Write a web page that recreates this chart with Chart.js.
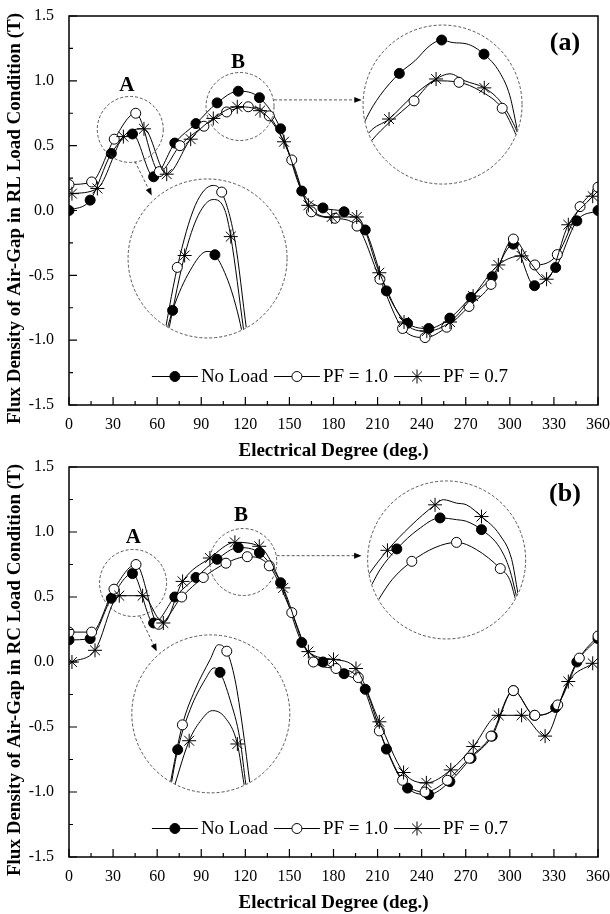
<!DOCTYPE html>
<html>
<head>
<meta charset="utf-8">
<script src="https://cdn.jsdelivr.net/npm/chart.js@4.4.1/dist/chart.umd.min.js"></script>
<style>
  html, body { margin: 0; padding: 0; background: #fff; }
  #wrap { position: relative; width: 610px; height: 914px; overflow: hidden; }
  canvas { position: absolute; left: 0; }
  #rl { top: 0; }
  #rc { top: 451px; }
</style>
</head>
<body>
<div id="wrap">
  <canvas id="rl" width="610" height="462" style="width:610px;height:462px"></canvas>
  <canvas id="rc" width="610" height="463" style="width:610px;height:463px"></canvas>
</div>
<script>
const SERIF = '"Liberation Serif", "Times New Roman", serif';

// tick labels
const xTicks = [0, 30, 60, 90, 120, 150, 180, 210, 240, 270, 300, 330, 360];
const yTicks = [-1.5, -1.0, -0.5, 0.0, 0.5, 1.0, 1.5];

const seriesNames = ['No Load', 'PF = 1.0', 'PF = 0.7'];

// electrical degree of the markers
const degNoLoad = [0, 14.4, 28.8, 43.2, 57.6, 72, 86.4, 100.8, 115.2, 129.6, 144, 158.4, 172.8,
  187.2, 201.6, 216, 230.4, 244.8, 259.2, 273.6, 288, 302.4, 316.8, 331.2, 345.6, 360];
const degPF10RL = [0, 15.4, 30.8, 45.4, 61.5, 75.5, 91.8, 107.3, 122, 136.3, 151.6, 165, 181,
  196, 211.6, 227, 242.3, 257, 272.2, 287.2, 302.4, 317, 332.3, 347.8, 360];
const degPF07RL = [2, 19.3, 37, 51, 66.5, 82.8, 98.2, 114.5, 130, 146.3, 162.9, 178.8, 195.8,
  211.2, 228, 243.5, 259.3, 275, 292.2, 308, 325, 339.8, 356.4];
const degPF10RC = [0, 15.4, 30.6, 45.6, 61, 76.7, 91.4, 106.8, 121.3, 136.3, 151.6, 166.3, 181.7,
  196.9, 211.2, 227, 242.3, 257.5, 272.4, 287.2, 302.4, 317, 332.6, 347.3, 360];
const degPF07RC = [2, 17.7, 34.2, 50.1, 64.2, 77.3, 95.9, 112.9, 129.5, 145.8, 162.9, 180, 195.3,
  211.2, 227.7, 243.2, 259.8, 275.1, 292.4, 308, 324, 339.8, 356.4];

// (a) RL load, flux density (T)
const noLoadRL = [0.00, 0.08, 0.44, 0.59, 0.26, 0.52, 0.67, 0.83, 0.92, 0.87, 0.63, 0.15, 0.02,
  -0.01, -0.15, -0.62, -0.87, -0.91, -0.83, -0.67, -0.51, -0.26, -0.58, -0.44, -0.08, 0.00];
const pf10RL = [0.20, 0.22, 0.55, 0.75, 0.30, 0.50, 0.65, 0.76, 0.80, 0.73, 0.39, -0.01, -0.06,
  -0.12, -0.53, -0.91, -0.98, -0.90, -0.74, -0.57, -0.22, -0.42, -0.34, 0.03, 0.18];
const pf07RL = [0.13, 0.17, 0.57, 0.63, 0.28, 0.55, 0.71, 0.80, 0.77, 0.53, 0.04, -0.05, -0.05,
  -0.48, -0.86, -0.93, -0.86, -0.66, -0.42, -0.35, -0.53, -0.11, 0.11];

// (b) RC load
const noLoadRC = [0.17, 0.18, 0.49, 0.68, 0.30, 0.50, 0.65, 0.79, 0.88, 0.84, 0.61, 0.15, 0.00,
  -0.09, -0.21, -0.67, -0.97, -1.02, -0.92, -0.74, -0.57, -0.22, -0.41, -0.35, 0.00, 0.18];
const pf10RC = [0.23, 0.23, 0.56, 0.75, 0.29, 0.50, 0.65, 0.76, 0.81, 0.74, 0.38, 0.00, -0.05,
  -0.12, -0.53, -0.91, -1.00, -0.91, -0.74, -0.57, -0.22, -0.41, -0.33, 0.03, 0.20];
const pf07RC = [0.00, 0.09, 0.51, 0.51, 0.30, 0.62, 0.80, 0.92, 0.89, 0.57, 0.08, 0.02, -0.05,
  -0.46, -0.85, -0.93, -0.83, -0.65, -0.41, -0.41, -0.57, -0.15, -0.01];

// magnified views, curve and marker points (deg, T)
// (a) zoom A
const zaRLdegNL = [25, 28.8, 34.8, 40.5, 43.2, 47.6, 50.3, 52.3, 53.5];
const zaRLvalNL = [0.33, 0.44, 0.548, 0.599, 0.59, 0.521, 0.453, 0.386, 0.33];
const zaRLdegP10 = [25, 30.4, 36.5, 42.6, 45.5, 50, 54, 55];
const zaRLvalP10 = [0.33, 0.556, 0.723, 0.777, 0.759, 0.629, 0.386, 0.33];
const zaRLdegP07 = [26, 32.9, 37.5, 42.6, 46.6, 48.6, 53, 54];
const zaRLvalP07 = [0.33, 0.588, 0.696, 0.739, 0.71, 0.639, 0.386, 0.33];
const zaRLmkNL = [[28.8, 0.44], [43.2, 0.59]];
const zaRLmkP10 = [[30.4, 0.556], [45.5, 0.759]];
const zaRLmkP07 = [[32.9, 0.588], [48.6, 0.639]];
// (a) zoom B
const zbRLdegNL = [86, 89.7, 94.2, 100.8, 106.1, 111.2, 115.2, 119.1, 123.5, 129.6, 135, 138.4, 141.2, 143];
const zbRLvalNL = [0.64, 0.711, 0.77, 0.83, 0.864, 0.905, 0.92, 0.913, 0.91, 0.882, 0.832, 0.77, 0.667, 0.6];
const zbRLdegP10 = [87, 91.4, 97.3, 105.8, 113.3, 121.1, 128.3, 135.8, 139.1, 140.8, 142.5];
const zbRLvalP10 = [0.6, 0.649, 0.697, 0.756, 0.81, 0.806, 0.783, 0.736, 0.689, 0.654, 0.58];
const zbRLdegP07 = [87, 90.5, 97.3, 105.1, 113.3, 118, 123.1, 129.7, 135, 139.1, 141.2, 143];
const zbRLvalP07 = [0.62, 0.67, 0.707, 0.767, 0.815, 0.829, 0.81, 0.791, 0.756, 0.703, 0.662, 0.59];
const zbRLmkNL = [[100.8, 0.83], [115.2, 0.92], [129.6, 0.882]];
const zbRLmkP10 = [[105.8, 0.756], [121.1, 0.806], [135.8, 0.736]];
const zbRLmkP07 = [[97.3, 0.707], [113.3, 0.815], [129.7, 0.791]];
// (b) zoom A
const zaRCdegNL = [25.5, 28.8, 33, 38.1, 41.2, 43.2, 46.6, 50, 52, 53];
const zaRCvalNL = [0.36, 0.49, 0.588, 0.662, 0.691, 0.68, 0.613, 0.515, 0.404, 0.36];
const zaRCdegP10 = [25, 30.4, 34.7, 39.8, 42.6, 45.5, 48.3, 51, 53.4, 54.2];
const zaRCvalP10 = [0.36, 0.551, 0.637, 0.711, 0.748, 0.732, 0.662, 0.539, 0.404, 0.36];
const zaRCdegP07 = [26, 32.7, 36.4, 40.6, 44.9, 49.1, 51.4, 52.5];
const zaRCvalP07 = [0.36, 0.512, 0.559, 0.586, 0.569, 0.504, 0.404, 0.36];
const zaRCmkNL = [[28.8, 0.49], [43.2, 0.68]];
const zaRCmkP10 = [[30.4, 0.551], [45.5, 0.732]];
const zaRCmkP07 = [[32.7, 0.512], [49.1, 0.504]];
// (b) zoom B
const zbRCdegNL = [89, 92.3, 95.1, 100.8, 108, 115.5, 121.1, 124.5, 129.6, 135.8, 139.2, 141.5, 143];
const zbRCvalNL = [0.64, 0.687, 0.73, 0.79, 0.846, 0.88, 0.875, 0.87, 0.846, 0.794, 0.73, 0.653, 0.6];
const zbRCdegP10 = [91, 94.6, 99.2, 105.9, 113.8, 121.1, 127.9, 136, 139.2, 140.9, 142.5];
const zbRCvalP10 = [0.59, 0.643, 0.701, 0.754, 0.794, 0.809, 0.788, 0.733, 0.701, 0.653, 0.6];
const zbRCdegP07 = [88, 91.2, 97.6, 105.3, 113.8, 116.6, 121.1, 124.5, 129.6, 135.8, 139.9, 142, 143.5];
const zbRCvalP07 = [0.67, 0.715, 0.786, 0.855, 0.918, 0.933, 0.923, 0.918, 0.884, 0.831, 0.759, 0.662, 0.6];
const zbRCmkNL = [[100.8, 0.79], [115.5, 0.88], [129.6, 0.846]];
const zbRCmkP10 = [[105.9, 0.754], [121.1, 0.809], [136, 0.733]];
const zbRCmkP07 = [[97.6, 0.786], [113.8, 0.918], [129.6, 0.884]];

const pts = (xs, ys) => xs.map((x, i) => ({x: x, y: ys[i]}));
const pairs = (list) => list.map(p => ({x: p[0], y: p[1]}));

const MARK = [
  {pointStyle: 'circle', pointRadius: 5, pointBackgroundColor: '#000', order: 2},
  {pointStyle: 'circle', pointRadius: 5, pointBackgroundColor: '#fff', order: 1},
  {pointStyle: 'star', pointRadius: 7, pointBackgroundColor: '#fff', order: 0}
];

function mainSet(i, data) {
  return Object.assign({
    label: seriesNames[i],
    data: data,
    borderColor: '#000',
    borderWidth: 1,
    pointBorderColor: '#000',
    pointBorderWidth: 1,
    cubicInterpolationMode: 'monotone',
    xAxisID: 'x',
    yAxisID: 'y'
  }, MARK[i]);
}

function zoomSets(key, lines, marks) {
  const out = [];
  lines.forEach((d, i) => {
    out.push({
      inset: key, data: d, borderColor: '#000', borderWidth: 1, pointRadius: 0,
      cubicInterpolationMode: 'monotone', order: 5,
      xAxisID: 'x' + key, yAxisID: 'y' + key
    });
    out.push(Object.assign({
      inset: key, data: marks[i], showLine: false, borderColor: '#000',
      pointBorderColor: '#000', pointBorderWidth: 1,
      xAxisID: 'x' + key, yAxisID: 'y' + key
    }, MARK[i], {order: 4 - i / 10}));
  });
  return out;
}

function zoomScales(z) {
  const xmin = z.view[0] - z.center[0] / z.mag[0];
  const ymin = z.view[1] - (z.center[1] + 1.5) / z.mag[1];
  return {
    x: {type: 'linear', display: false, min: xmin, max: xmin + 360 / z.mag[0]},
    y: {type: 'linear', display: false, min: ymin, max: ymin + 3 / z.mag[1]}
  };
}

function decor(cfg) {
  return {
    id: 'decor',
    beforeDatasetDraw(chart, args) {
      const ds = chart.data.datasets[args.index];
      if (!ds.inset) return;
      const z = cfg.zooms[ds.inset];
      const ctx = chart.ctx;
      ctx.save();
      ctx.beginPath();
      ctx.arc(chart.scales.x.getPixelForValue(z.center[0]), chart.scales.y.getPixelForValue(z.center[1]), z.r - 0.5, 0, Math.PI * 2);
      ctx.clip();
    },
    afterDatasetDraw(chart, args) {
      if (chart.data.datasets[args.index].inset) chart.ctx.restore();
    },
    afterDraw(chart) {
      const ctx = chart.ctx;
      const {left, right, top, bottom} = chart.chartArea;
      const sx = chart.scales.x, sy = chart.scales.y;
      const px = v => sx.getPixelForValue(v), py = v => sy.getPixelForValue(v);
      ctx.save();
      // frame and inward ticks
      ctx.strokeStyle = '#000';
      ctx.lineWidth = 1.5;
      ctx.strokeRect(left, top, right - left, bottom - top);
      ctx.lineWidth = 1.2;
      ctx.beginPath();
      for (let v = 0; v <= 360; v += 15) {
        const len = v % 30 === 0 ? 8 : 4;
        ctx.moveTo(px(v), bottom); ctx.lineTo(px(v), bottom - len);
      }
      for (let k = -6; k <= 6; k++) {
        const len = k % 2 === 0 ? 8 : 4;
        ctx.moveTo(left, py(k * 0.25)); ctx.lineTo(left + len, py(k * 0.25));
      }
      ctx.stroke();

      // zoom circles, arrows, labels
      Object.keys(cfg.zooms).forEach(key => {
        const z = cfg.zooms[key];
        ctx.strokeStyle = '#444';
        ctx.lineWidth = 0.9;
        ctx.setLineDash([3, 2]);
        ctx.beginPath();
        ctx.arc(px(z.center[0]), py(z.center[1]), z.r, 0, Math.PI * 2);
        ctx.stroke();
        ctx.beginPath();
        ctx.arc(px(z.small[0]), py(z.small[1]), z.smallR, 0, Math.PI * 2);
        ctx.stroke();
        const ax0 = px(z.arrow[0]), ay0 = py(z.arrow[1]);
        const ax1 = px(z.arrow[2]), ay1 = py(z.arrow[3]);
        const ang = Math.atan2(ay1 - ay0, ax1 - ax0);
        ctx.beginPath();
        ctx.moveTo(ax0, ay0);
        ctx.lineTo(ax1 - 6 * Math.cos(ang), ay1 - 6 * Math.sin(ang));
        ctx.stroke();
        ctx.setLineDash([]);
        ctx.fillStyle = '#000';
        ctx.beginPath();
        ctx.moveTo(ax1, ay1);
        ctx.lineTo(ax1 - 8 * Math.cos(ang - 0.38), ay1 - 8 * Math.sin(ang - 0.38));
        ctx.lineTo(ax1 - 8 * Math.cos(ang + 0.38), ay1 - 8 * Math.sin(ang + 0.38));
        ctx.closePath();
        ctx.fill();
        ctx.font = 'bold 21px ' + SERIF;
        ctx.textAlign = 'center';
        ctx.textBaseline = 'middle';
        ctx.fillText(key, px(z.label[0]), py(z.label[1]));
      });

      // panel tag
      ctx.font = 'bold 26px ' + SERIF;
      ctx.textAlign = 'center';
      ctx.textBaseline = 'middle';
      ctx.fillStyle = '#000';
      ctx.fillText(cfg.tag, px(337.5), py(1.29));

      // legend inside the plot
      ctx.font = '19px ' + SERIF;
      ctx.textBaseline = 'middle';
      ctx.textAlign = 'left';
      const sample = 46, gap = 3, itemGap = 6;
      const mains = chart.data.datasets.slice(0, 3);
      let total = 0;
      mains.forEach(d => { total += sample + gap + ctx.measureText(d.label).width; });
      total += itemGap * 2;
      let lx = (left + right) / 2 - 3.5 - total / 2;
      const ly = bottom - 28.5;
      mains.forEach(d => {
        ctx.strokeStyle = '#000';
        ctx.lineWidth = 1;
        ctx.beginPath();
        ctx.moveTo(lx, ly); ctx.lineTo(lx + sample, ly);
        ctx.stroke();
        ctx.fillStyle = d.pointBackgroundColor;
        Chart.helpers.drawPoint(ctx, {pointStyle: d.pointStyle, radius: d.pointRadius, borderWidth: 1, rotation: 0}, lx + sample / 2, ly);
        ctx.fillStyle = '#000';
        lx += sample + gap;
        ctx.fillText(d.label, lx, ly + 1);
        lx += ctx.measureText(d.label).width + itemGap;
      });

      // axis titles
      ctx.font = 'bold 19px ' + SERIF;
      ctx.textAlign = 'center';
      ctx.fillText('Electrical Degree (deg.)', (left + right) / 2, bottom + 46);
      ctx.save();
      ctx.translate(15, (top + bottom) / 2 + 8);
      ctx.rotate(-Math.PI / 2);
      ctx.fillText(cfg.yTitle, 0, 0);
      ctx.restore();
      ctx.restore();
    }
  };
}

function build(canvasId, cfg, mainData, zoomData) {
  const za = zoomScales(cfg.zooms.A), zb = zoomScales(cfg.zooms.B);
  const datasets = [
    mainSet(0, mainData[0]), mainSet(1, mainData[1]), mainSet(2, mainData[2])
  ].concat(zoomSets('A', zoomData.A.lines, zoomData.A.marks))
   .concat(zoomSets('B', zoomData.B.lines, zoomData.B.marks));
  const tickFont = {family: SERIF, size: 16};
  return new Chart(document.getElementById(canvasId).getContext('2d'), {
    type: 'line',
    data: {datasets: datasets},
    options: {
      responsive: false,
      animation: false,
      layout: {padding: {left: 0, right: 12, top: 16, bottom: cfg.padBottom}},
      scales: {
        x: {
          type: 'linear', min: 0, max: 360,
          afterBuildTicks: s => { s.ticks = xTicks.map(v => ({value: v})); },
          afterFit: s => { s.height = 40; s.paddingLeft = 0; s.paddingRight = 0; },
          ticks: {font: tickFont, color: '#000', padding: 2, maxRotation: 0},
          grid: {display: false},
          border: {display: false}
        },
        y: {
          type: 'linear', min: -1.5, max: 1.5,
          afterBuildTicks: s => { s.ticks = yTicks.map(v => ({value: v})); },
          afterFit: s => { s.width = 69; s.paddingTop = 0; s.paddingBottom = 0; },
          ticks: {font: tickFont, color: '#000', padding: 7, callback: v => v.toFixed(1)},
          grid: {display: false},
          border: {display: false}
        },
        xA: za.x, yA: za.y, xB: zb.x, yB: zb.y
      },
      plugins: {legend: {display: false}, tooltip: {enabled: false}}
    },
    plugins: [decor(cfg)]
  });
}

build('rl', {
  tag: '(a)',
  yTitle: 'Flux Density of Air-Gap in RL Load Condition (T)',
  padBottom: 17,
  zooms: {
    A: {center: [94.3, -0.370], r: 79.5, small: [41.7, 0.625], smallR: 33, label: [39.3, 0.964],
        arrow: [44.9, 0.378, 56.3, 0.116], view: [40.7, 0.580], mag: [2.0, 2.86]},
    B: {center: [254.2, 0.817], r: 79.5, small: [116.4, 0.802], smallR: 34, label: [115, 1.141],
        arrow: [139.5, 0.853, 199.2, 0.853], view: [115.5, 0.746], mag: [2.0, 2.86]}
  }
}, [pts(degNoLoad, noLoadRL), pts(degPF10RL, pf10RL), pts(degPF07RL, pf07RL)], {
  A: {lines: [pts(zaRLdegNL, zaRLvalNL), pts(zaRLdegP10, zaRLvalP10), pts(zaRLdegP07, zaRLvalP07)],
      marks: [pairs(zaRLmkNL), pairs(zaRLmkP10), pairs(zaRLmkP07)]},
  B: {lines: [pts(zbRLdegNL, zbRLvalNL), pts(zbRLdegP10, zbRLvalP10), pts(zbRLdegP07, zbRLvalP07)],
      marks: [pairs(zbRLmkNL), pairs(zbRLmkP10), pairs(zbRLmkP07)]}
});

build('rc', {
  tag: '(b)',
  yTitle: 'Flux Density of Air-Gap in RC Load Condition (T)',
  padBottom: 17,
  zooms: {
    A: {center: [96.5, -0.399], r: 79, small: [43.6, 0.608], smallR: 33.5, label: [43.8, 0.954],
        arrow: [48.3, 0.351, 59.7, 0.082], view: [40.06, 0.578], mag: [2.0, 3.13]},
    B: {center: [257, 0.785], r: 79, small: [118.6, 0.769], smallR: 33.5, label: [117.1, 1.128],
        arrow: [141.3, 0.818, 199.1, 0.818], view: [117.75, 0.758], mag: [2.0, 2.65]}
  }
}, [pts(degNoLoad, noLoadRC), pts(degPF10RC, pf10RC), pts(degPF07RC, pf07RC)], {
  A: {lines: [pts(zaRCdegNL, zaRCvalNL), pts(zaRCdegP10, zaRCvalP10), pts(zaRCdegP07, zaRCvalP07)],
      marks: [pairs(zaRCmkNL), pairs(zaRCmkP10), pairs(zaRCmkP07)]},
  B: {lines: [pts(zbRCdegNL, zbRCvalNL), pts(zbRCdegP10, zbRCvalP10), pts(zbRCdegP07, zbRCvalP07)],
      marks: [pairs(zbRCmkNL), pairs(zbRCmkP10), pairs(zbRCmkP07)]}
});
</script>
</body>
</html>
